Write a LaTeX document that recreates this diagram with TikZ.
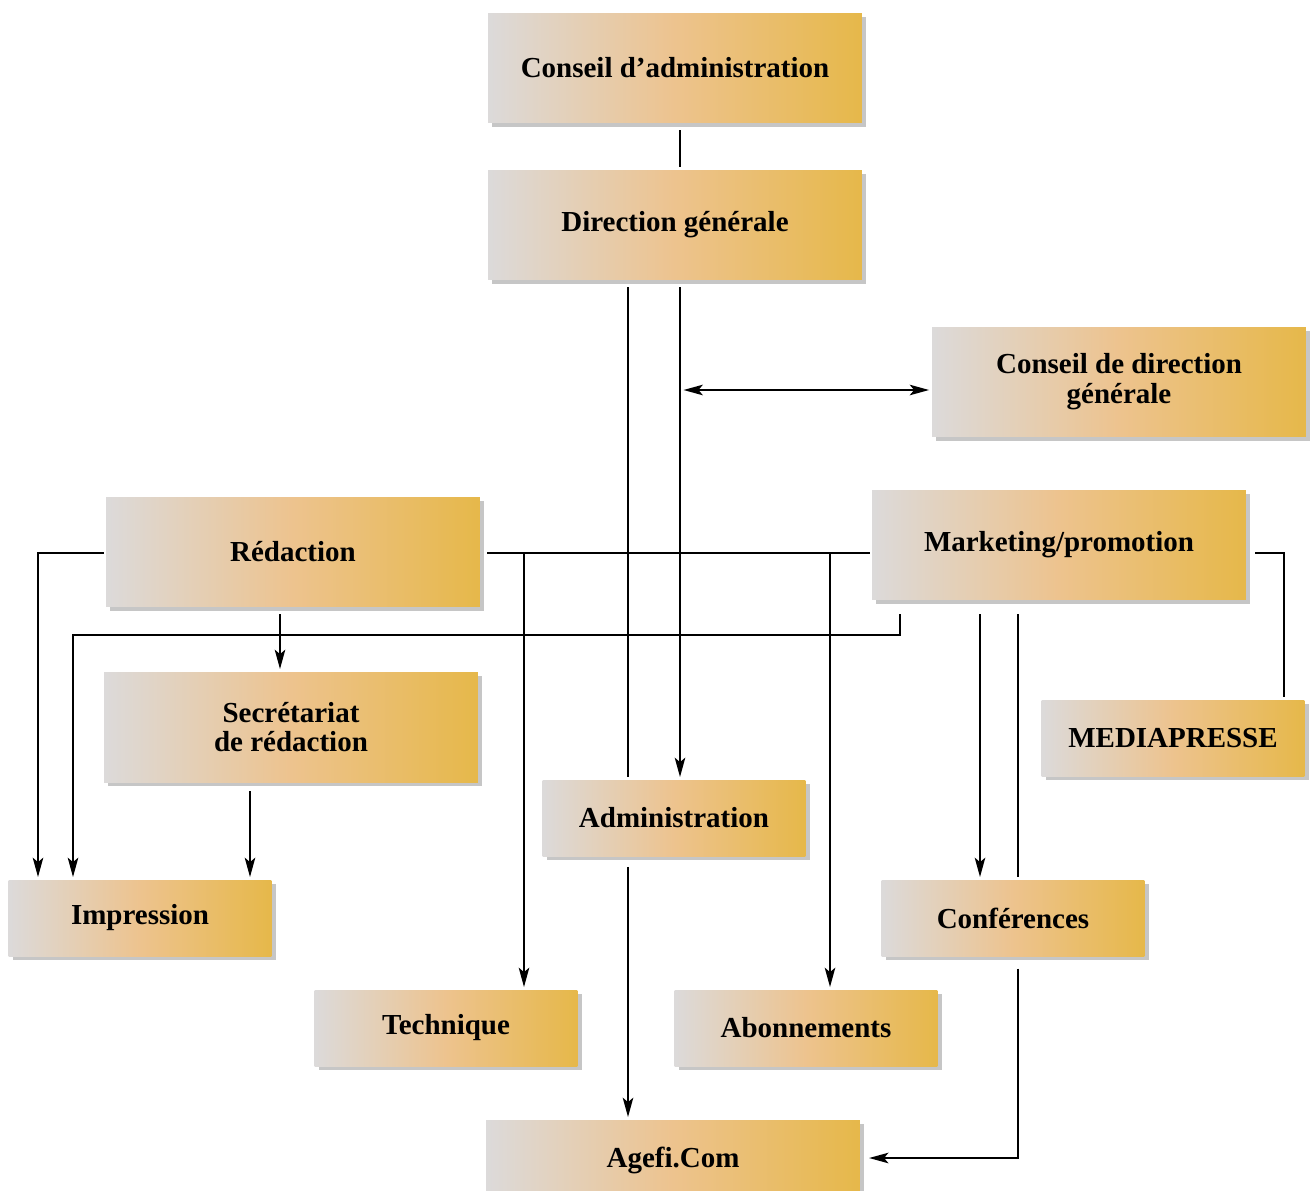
\documentclass[tikz,border=0pt]{standalone}
\usepackage{fontspec}
\setmainfont{Liberation Serif}
\usetikzlibrary{arrows.meta,shadows}
\definecolor{boxgray}{HTML}{DCDADA}
\definecolor{boxpeach}{HTML}{EDC38E}
\definecolor{boxgold}{HTML}{E6B84A}
\tikzset{
  unit/.style={
    shading=axis, left color=boxgray, right color=boxgold, middle color=boxpeach,
    drop shadow={shadow xshift=2.5pt, shadow yshift=-2.5pt, opacity=0.45, fill=gray},
    font=\fontsize{16.5}{17}\selectfont\bfseries, align=center, inner sep=0pt,
  },
  bigunit/.style={unit, minimum width=7.48cm, minimum height=2.2cm},
  smallunit/.style={unit, minimum width=5.26cm, minimum height=1.52cm},
  link/.style={line width=1pt, shorten <=4pt, shorten >=1.5pt, >={Stealth[length=11pt,width=6pt,inset=2.5pt]}},
}

\begin{document}
\begin{tikzpicture}[x=0.02cm, y=-0.02cm]
            \useasboundingbox (0,0) rectangle (1311,1190);

            % boxes
            \node[bigunit] (ca) at (675,68) {Conseil d’administration};
            \node[bigunit] (dir) at (675,225) {Direction générale};
            \node[bigunit] (cdg) at (1119,382) {Conseil de direction\\générale};
            \node[bigunit] (red) at (293,552) {Rédaction};
            \node[bigunit] (mkt) at (1059,545) {Marketing/promotion};
            \node[bigunit] (sec) at (291,727) {Secrétariat\\de rédaction};
            \node[smallunit] (mdp) at (1173,738) {MEDIAPRESSE};
            \node[smallunit] (adm) at (674,818) {Administration};
            \node[smallunit] (imp) at (140,918) {Impression};
            \node[smallunit] (con) at (1013,918) {Conférences};
            \node[smallunit] (tec) at (446,1028) {Technique};
            \node[smallunit] (abo) at (806,1028) {Abonnements};
            \node[bigunit, minimum height=1.6cm] (web) at (673,1160) {Agefi.Com};

            % joints on the lines
            \coordinate (cdgjoin) at (680,390);
            \coordinate (tecjoin) at (524,553);
            \coordinate (abojoin) at (830,553);

            \draw[link] (ca.south -| 680,0) -- (dir.north -| 680,0);
            \draw[link,->] (dir.south -| 680,0) -- (adm.north -| 680,0);
            \draw[link] (dir.south -| 628,0) -- (adm.north -| 628,0);
            \draw[link,->, shorten <=6pt] (adm.south -| 628,0) -- (web.north -| 628,0);
            \draw[link,<->, shorten <=2pt] (cdgjoin) -- (cdg.west |- cdgjoin);

            \draw[link, shorten >=1pt] (red.east |- tecjoin) -- (mkt.west |- tecjoin);
            \draw[link,->, shorten <=0pt] (tecjoin) -- (tec.north -| tecjoin);
            \draw[link,->, shorten <=0pt] (abojoin) -- (abo.north -| abojoin);
            \draw[link,->, shorten <=1pt] (red.west |- tecjoin) -| (imp.north -| 38,0);
            \draw[link,->] (red.south -| 280,0) -- (sec.north -| 280,0);
            \draw[link,->, shorten <=8pt] (mkt.south -| 900,0) |- (73,635) -- (imp.north -| 73,0);
            \draw[link,->, shorten <=8pt] (mkt.south -| 980,0) -- (con.north -| 980,0);
            \draw[link, shorten <=8pt] (mkt.south -| 1018,0) -- (con.north -| 1018,0);
            \draw[link,->, shorten <=7pt, shorten >=5pt] (con.south -| 1018,0) |- (web.east |- 0,1158);
            \draw[link, shorten <=5pt] (mkt.east |- tecjoin) -| (mdp.north -| 1284,0);
            \draw[link,->, shorten <=5pt] (sec.south -| 250,0) -- (imp.north -| 250,0);
        \end{tikzpicture}
\end{document}
